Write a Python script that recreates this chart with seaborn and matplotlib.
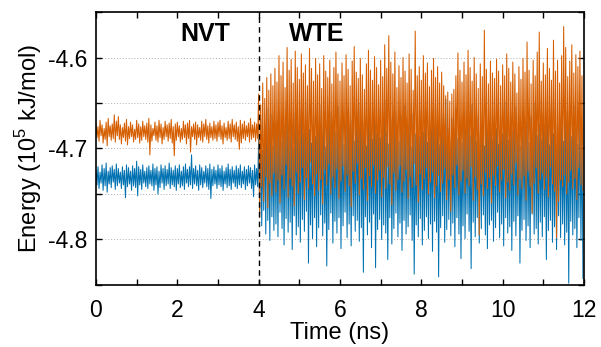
import numpy as np
import pandas as pd
import matplotlib
matplotlib.use("Agg")
import matplotlib.pyplot as plt
import seaborn as sns
from matplotlib.ticker import MultipleLocator

# energies in 10^5 kJ/mol; each phase stored as alternating local highs / lows
# NVT phase: 0-4 ns, one high/low pair every 0.05 ns
nvt_orange_hi = [
    -4.672, -4.676, -4.669, -4.674, -4.678, -4.671, -4.667, -4.675, -4.673, -4.663,
    -4.670, -4.665, -4.674, -4.677, -4.672, -4.668, -4.676, -4.671, -4.674, -4.679,
    -4.669, -4.673, -4.676, -4.670, -4.675, -4.672, -4.667, -4.674, -4.678, -4.671,
    -4.675, -4.669, -4.673, -4.677, -4.670, -4.674, -4.672, -4.668, -4.676, -4.673,
    -4.671, -4.675, -4.678, -4.670, -4.674, -4.672, -4.669, -4.676, -4.673, -4.671,
    -4.674, -4.677, -4.670, -4.673, -4.668, -4.675, -4.672, -4.676, -4.670, -4.674,
    -4.671, -4.669, -4.675, -4.672, -4.677, -4.670, -4.673, -4.668, -4.674, -4.671,
    -4.676, -4.669, -4.673, -4.670, -4.675, -4.672, -4.667, -4.674, -4.671, -4.673]
nvt_orange_lo = [
    -4.688, -4.692, -4.686, -4.694, -4.690, -4.697, -4.687, -4.691, -4.689, -4.693,
    -4.686, -4.690, -4.695, -4.688, -4.692, -4.696, -4.689, -4.687, -4.693, -4.690,
    -4.688, -4.694, -4.691, -4.687, -4.690, -4.693, -4.707, -4.692, -4.686, -4.691,
    -4.693, -4.688, -4.695, -4.690, -4.687, -4.692, -4.689, -4.694, -4.708, -4.691,
    -4.687, -4.693, -4.690, -4.688, -4.695, -4.689, -4.704, -4.687, -4.690, -4.696,
    -4.688, -4.691, -4.693, -4.687, -4.690, -4.694, -4.688, -4.691, -4.689, -4.692,
    -4.687, -4.690, -4.695, -4.688, -4.691, -4.689, -4.693, -4.687, -4.690, -4.692,
    -4.701, -4.694, -4.689, -4.691, -4.687, -4.693, -4.690, -4.688, -4.692, -4.689]
nvt_blue_hi = [
    -4.724, -4.720, -4.726, -4.718, -4.722, -4.716, -4.725, -4.721, -4.719, -4.723,
    -4.717, -4.722, -4.726, -4.720, -4.724, -4.718, -4.721, -4.725, -4.719, -4.722,
    -4.714, -4.720, -4.723, -4.718, -4.725, -4.721, -4.719, -4.724, -4.717, -4.722,
    -4.720, -4.725, -4.718, -4.722, -4.719, -4.723, -4.716, -4.721, -4.724, -4.719,
    -4.722, -4.718, -4.725, -4.720, -4.717, -4.723, -4.720, -4.707, -4.722, -4.719,
    -4.724, -4.718, -4.721, -4.725, -4.719, -4.722, -4.717, -4.723, -4.720, -4.724,
    -4.718, -4.722, -4.719, -4.725, -4.721, -4.717, -4.723, -4.720, -4.724, -4.719,
    -4.722, -4.718, -4.725, -4.720, -4.723, -4.719, -4.721, -4.724, -4.718, -4.722]
nvt_blue_lo = [
    -4.740, -4.744, -4.738, -4.746, -4.741, -4.748, -4.739, -4.743, -4.737, -4.745,
    -4.741, -4.738, -4.744, -4.740, -4.754, -4.742, -4.739, -4.746, -4.741, -4.743,
    -4.752, -4.740, -4.745, -4.738, -4.742, -4.744, -4.739, -4.741, -4.746, -4.740,
    -4.750, -4.743, -4.738, -4.745, -4.741, -4.739, -4.744, -4.740, -4.742, -4.746,
    -4.739, -4.743, -4.741, -4.745, -4.738, -4.742, -4.740, -4.744, -4.739, -4.741,
    -4.746, -4.740, -4.743, -4.738, -4.742, -4.745, -4.755, -4.741, -4.739, -4.744,
    -4.740, -4.742, -4.746, -4.739, -4.743, -4.741, -4.745, -4.738, -4.742, -4.744,
    -4.740, -4.743, -4.739, -4.745, -4.741, -4.738, -4.744, -4.753, -4.740, -4.742]

# WTE phase: 4-12 ns, one high/low pair every 0.05 ns
wte_orange_hi = [
    -4.640, -4.652, -4.628, -4.645, -4.622, -4.636, -4.618, -4.631, -4.612, -4.627,
    -4.598, -4.620, -4.605, -4.633, -4.589, -4.614, -4.602, -4.628, -4.593, -4.611,
    -4.624, -4.596, -4.617, -4.608, -4.631, -4.590, -4.612, -4.626, -4.601, -4.619,
    -4.607, -4.634, -4.598, -4.615, -4.622, -4.603, -4.629, -4.611, -4.594, -4.618,
    -4.626, -4.606, -4.620, -4.597, -4.613, -4.631, -4.604, -4.588, -4.616, -4.623,
    -4.601, -4.619, -4.635, -4.607, -4.592, -4.614, -4.625, -4.599, -4.611, -4.630,
    -4.603, -4.621, -4.586, -4.612, -4.576, -4.605, -4.618, -4.594, -4.633, -4.609,
    -4.622, -4.600, -4.615, -4.628, -4.596, -4.613, -4.636, -4.571, -4.620, -4.610,
    -4.625, -4.598, -4.617, -4.606, -4.632, -4.614, -4.601, -4.622, -4.610, -4.628,
    -4.616, -4.631, -4.642, -4.638, -4.648, -4.640, -4.635, -4.620, -4.595, -4.614,
    -4.627, -4.605, -4.619, -4.592, -4.611, -4.626, -4.600, -4.618, -4.634, -4.607,
    -4.621, -4.570, -4.613, -4.629, -4.604, -4.617, -4.623, -4.602, -4.615, -4.631,
    -4.608, -4.620, -4.596, -4.612, -4.627, -4.605, -4.618, -4.639, -4.610, -4.624,
    -4.601, -4.616, -4.583, -4.614, -4.629, -4.603, -4.620, -4.594, -4.572, -4.626,
    -4.606, -4.619, -4.590, -4.612, -4.625, -4.581, -4.615, -4.603, -4.628, -4.598,
    -4.566, -4.589, -4.621, -4.604, -4.586, -4.617, -4.597, -4.610, -4.593, -4.620]
wte_orange_lo = [
    -4.776, -4.742, -4.758, -4.731, -4.765, -4.738, -4.752, -4.727, -4.748, -4.735,
    -4.760, -4.729, -4.745, -4.718, -4.754, -4.733, -4.741, -4.763, -4.726, -4.749,
    -4.737, -4.721, -4.756, -4.732, -4.744, -4.715, -4.739, -4.752, -4.728, -4.746,
    -4.734, -4.761, -4.723, -4.740, -4.717, -4.750, -4.731, -4.743, -4.722, -4.755,
    -4.736, -4.719, -4.747, -4.729, -4.741, -4.764, -4.725, -4.738, -4.716, -4.751,
    -4.733, -4.745, -4.721, -4.757, -4.730, -4.742, -4.718, -4.749, -4.735, -4.724,
    -4.753, -4.732, -4.744, -4.720, -4.739, -4.762, -4.727, -4.746, -4.734, -4.719,
    -4.748, -4.736, -4.723, -4.755, -4.731, -4.743, -4.717, -4.740, -4.759, -4.728,
    -4.745, -4.733, -4.721, -4.750, -4.737, -4.726, -4.754, -4.741, -4.730, -4.747,
    -4.738, -4.722, -4.756, -4.734, -4.769, -4.729, -4.743, -4.718, -4.751, -4.736,
    -4.724, -4.749, -4.733, -4.741, -4.720, -4.757, -4.731, -4.745, -4.795, -4.739,
    -4.752, -4.726, -4.744, -4.732, -4.760, -4.729, -4.741, -4.719, -4.748, -4.735,
    -4.723, -4.754, -4.737, -4.746, -4.728, -4.740, -4.716, -4.751, -4.733, -4.744,
    -4.730, -4.757, -4.725, -4.742, -4.771, -4.738, -4.721, -4.749, -4.734, -4.727,
    -4.745, -4.731, -4.753, -4.720, -4.739, -4.747, -4.798, -4.758, -4.735, -4.742,
    -4.729, -4.750, -4.737, -4.724, -4.744, -4.733, -4.756, -4.721, -4.740, -4.746]
wte_blue_hi = [
    -4.690, -4.668, -4.702, -4.675, -4.655, -4.688, -4.662, -4.697, -4.671, -4.684,
    -4.659, -4.693, -4.666, -4.680, -4.648, -4.686, -4.673, -4.699, -4.661, -4.677,
    -4.691, -4.657, -4.683, -4.669, -4.645, -4.679, -4.694, -4.664, -4.687, -4.672,
    -4.652, -4.685, -4.667, -4.698, -4.676, -4.660, -4.689, -4.670, -4.682, -4.654,
    -4.681, -4.665, -4.696, -4.673, -4.658, -4.687, -4.669, -4.692, -4.663, -4.678,
    -4.650, -4.684, -4.671, -4.697, -4.661, -4.679, -4.690, -4.666, -4.683, -4.656,
    -4.688, -4.674, -4.647, -4.681, -4.695, -4.668, -4.685, -4.659, -4.677, -4.692,
    -4.664, -4.680, -4.653, -4.689, -4.672, -4.698, -4.662, -4.684, -4.670, -4.687,
    -4.658, -4.682, -4.676, -4.693, -4.665, -4.679, -4.651, -4.688, -4.671, -4.696,
    -4.663, -4.685, -4.646, -4.678, -4.691, -4.667, -4.682, -4.655, -4.689, -4.673,
    -4.694, -4.660, -4.680, -4.669, -4.686, -4.652, -4.677, -4.692, -4.664, -4.683,
    -4.671, -4.697, -4.657, -4.681, -4.668, -4.690, -4.662, -4.678, -4.695, -4.666,
    -4.684, -4.649, -4.675, -4.691, -4.663, -4.680, -4.654, -4.688, -4.672, -4.697,
    -4.659, -4.683, -4.670, -4.694, -4.665, -4.679, -4.650, -4.686, -4.673, -4.690,
    -4.661, -4.681, -4.668, -4.696, -4.656, -4.684, -4.671, -4.689, -4.664, -4.677,
    -4.692, -4.658, -4.682, -4.669, -4.687, -4.653, -4.678, -4.695, -4.666, -4.680]
wte_blue_lo = [
    -4.772, -4.785, -4.768, -4.794, -4.779, -4.801, -4.775, -4.790, -4.783, -4.797,
    -4.770, -4.788, -4.806, -4.777, -4.792, -4.781, -4.811, -4.774, -4.795, -4.786,
    -4.803, -4.778, -4.791, -4.769, -4.826, -4.784, -4.799, -4.776, -4.808, -4.787,
    -4.773, -4.796, -4.782, -4.829, -4.789, -4.771, -4.804, -4.780, -4.793, -4.776,
    -4.810, -4.785, -4.770, -4.798, -4.783, -4.807, -4.774, -4.791, -4.779, -4.802,
    -4.787, -4.836, -4.775, -4.795, -4.781, -4.809, -4.772, -4.831, -4.789, -4.778,
    -4.800, -4.784, -4.793, -4.822, -4.776, -4.805, -4.788, -4.771, -4.797, -4.782,
    -4.812, -4.779, -4.794, -4.786, -4.773, -4.801, -4.838, -4.784, -4.797, -4.777,
    -4.806, -4.790, -4.775, -4.799, -4.783, -4.813, -4.780, -4.792, -4.841, -4.787,
    -4.774, -4.803, -4.789, -4.778, -4.796, -4.782, -4.808, -4.776, -4.794, -4.821,
    -4.785, -4.799, -4.772, -4.791, -4.832, -4.781, -4.797, -4.776, -4.804, -4.788,
    -4.773, -4.795, -4.810, -4.784, -4.779, -4.802, -4.787, -4.770, -4.798, -4.783,
    -4.807, -4.776, -4.793, -4.786, -4.812, -4.780, -4.796, -4.774, -4.826, -4.790,
    -4.778, -4.801, -4.785, -4.809, -4.772, -4.794, -4.788, -4.805, -4.781, -4.797,
    -4.775, -4.822, -4.790, -4.779, -4.803, -4.786, -4.811, -4.774, -4.798, -4.783,
    -4.806, -4.792, -4.848, -4.780, -4.795, -4.788, -4.809, -4.776, -4.801, -4.843]

dt = 0.05          # ns between stored high/low pairs
t_switch = 4.0     # NVT -> WTE
orange = "#D55E00"
blue = "#0072B2"


def build(hi_nvt, lo_nvt, hi_wte, lo_wte):
    hi = np.array(hi_nvt + hi_wte)
    lo = np.array(lo_nvt + lo_wte)
    t = np.arange(len(hi)) * dt
    time = np.column_stack([t, t + dt / 2]).ravel()
    energy = np.column_stack([hi, lo]).ravel()
    return pd.DataFrame({"time": time, "energy": energy})


df_blue = build(nvt_blue_hi, nvt_blue_lo, wte_blue_hi, wte_blue_lo)
df_orange = build(nvt_orange_hi, nvt_orange_lo, wte_orange_hi, wte_orange_lo)

sns.set_style("ticks")
plt.rcParams["font.family"] = ["Liberation Sans", "DejaVu Sans"]
plt.rcParams["text.color"] = "black"
plt.rcParams["axes.labelcolor"] = "black"
plt.rcParams["xtick.color"] = "black"
plt.rcParams["ytick.color"] = "black"
plt.rcParams["mathtext.fontset"] = "custom"
plt.rcParams["mathtext.rm"] = "Liberation Sans"

fig = plt.figure(figsize=(6.01, 3.47), dpi=100)
ax = fig.add_axes([0.1597, 0.1787, 0.812, 0.7867])

sns.lineplot(data=df_blue, x="time", y="energy", color=blue, lw=0.75,
             estimator=None, sort=False, ax=ax)
sns.lineplot(data=df_orange, x="time", y="energy", color=orange, lw=0.75,
             estimator=None, sort=False, ax=ax)

ax.axvline(t_switch, color="black", lw=1.0, ls=(0, (4, 3)), zorder=5)

ax.set_xlim(0, 12)
ax.set_ylim(-4.85, -4.55)
ax.xaxis.set_major_locator(MultipleLocator(2))
ax.xaxis.set_minor_locator(MultipleLocator(1))
ax.yaxis.set_minor_locator(MultipleLocator(0.05))
ax.set_yticks([-4.8, -4.7, -4.6])
ax.set_yticklabels(["-4.8", "-4.7", "-4.6"])
ax.tick_params(which="both", direction="in", top=True, right=True,
               length=4, width=1, labelsize=16.5, color="black")
ax.tick_params(axis="x", which="both", pad=10)
ax.tick_params(axis="y", which="both", pad=6)
ax.grid(True, axis="y", which="both", ls=(0, (1, 2)), color="#b0b0b0", lw=0.7)
ax.set_axisbelow(True)
for sp in ax.spines.values():
    sp.set_linewidth(1.2)
    sp.set_color("black")

ax.set_xlabel("Time (ns)", fontsize=17, labelpad=0)
ax.set_ylabel(r"Energy (10$^{\mathrm{5}}$ kJ/mol)", fontsize=17, labelpad=3)

ax.text(2.7, -4.574, "NVT", fontsize=18, fontweight="bold", ha="center", va="center")
ax.text(5.43, -4.574, "WTE", fontsize=18, fontweight="bold", ha="center", va="center")

fig.savefig("out.png", dpi=100)
